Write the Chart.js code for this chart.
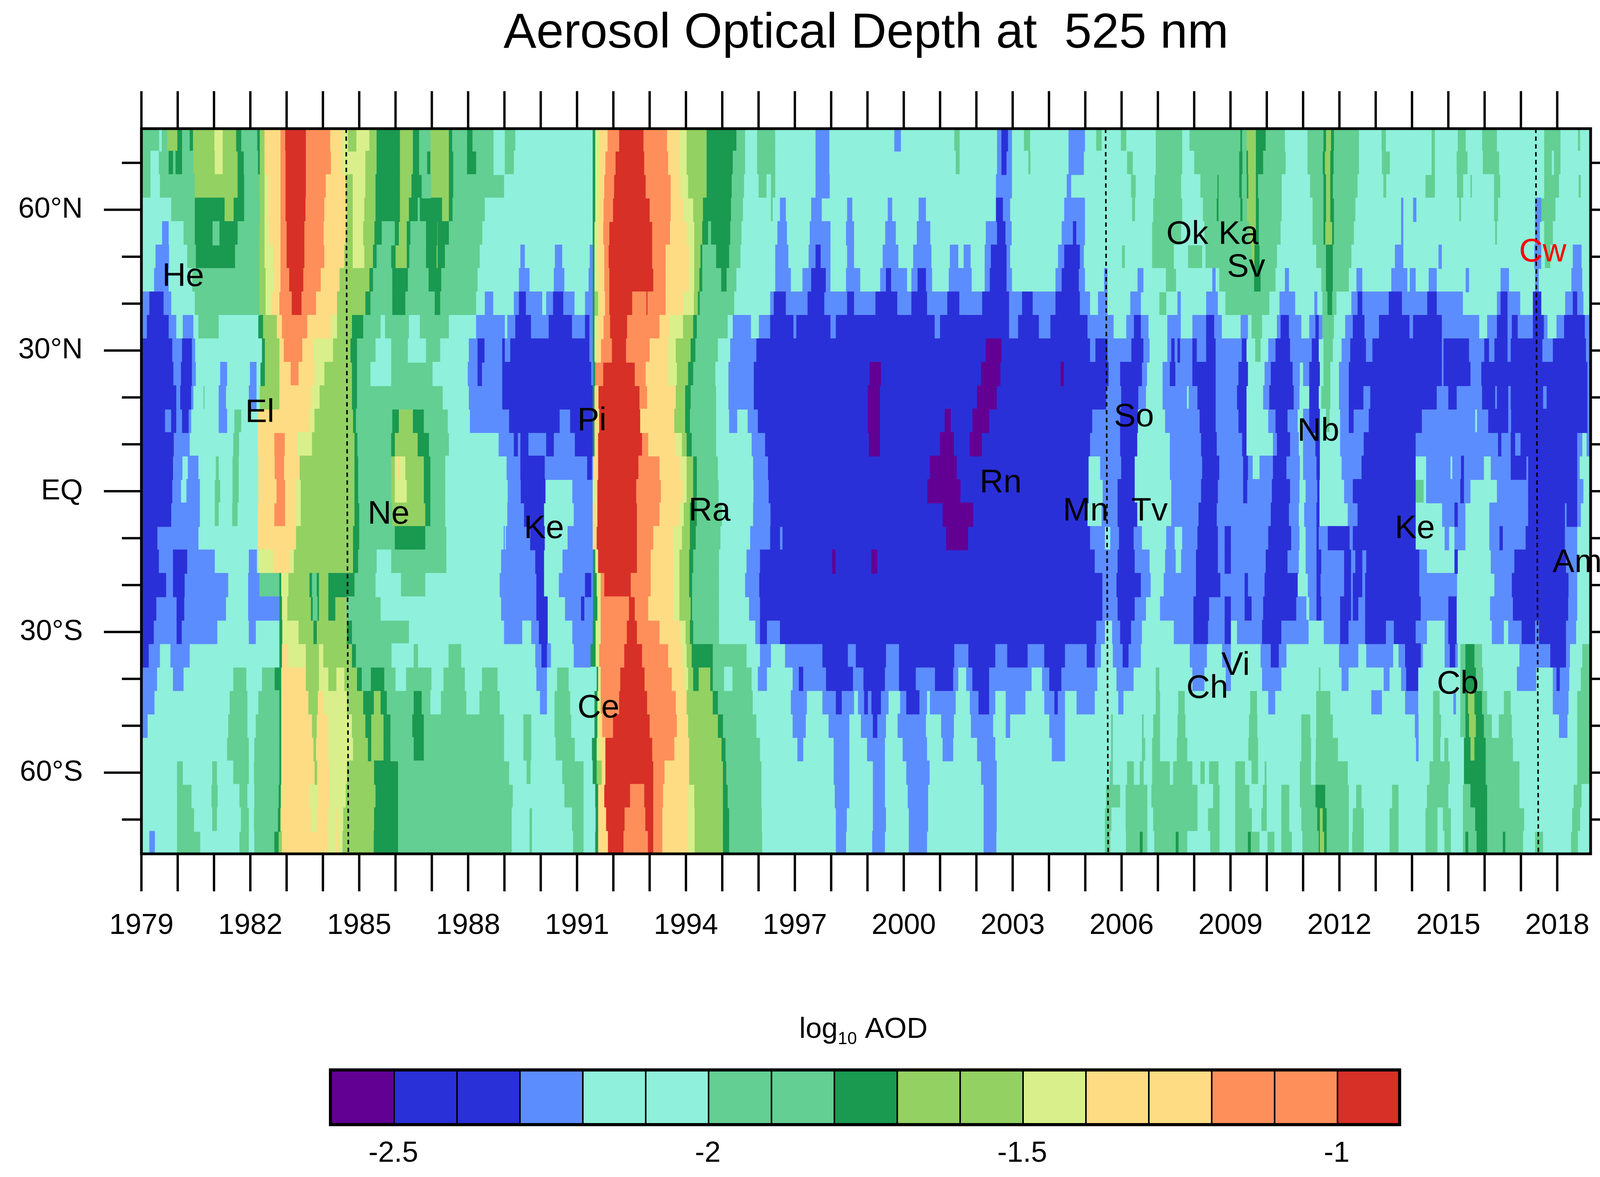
<!DOCTYPE html>
<html>
<head>
<meta charset="utf-8">
<title>Aerosol Optical Depth at 525 nm</title>
<script src="https://cdn.jsdelivr.net/npm/chart.js@4"></script>
<style>
html, body { margin: 0; padding: 0; background: #fff; }
#plotCanvas { position: absolute; left: 0; top: 0; }
#barCanvas { position: absolute; left: 0; top: 2560px; }
</style>
</head>
<body>
<canvas id="plotCanvas" width="4205" height="2560"></canvas>
<canvas id="barCanvas" width="4205" height="452"></canvas>
<script>
// colour classes of the contour plot
const P = 0, B = 1, L = 2, A = 3, G = 4, D = 5, M = 6, Y = 7, S = 8, O = 9, R = 10;
const classColors = ["#620094", "#2a30d8", "#5c8dff", "#8ff0db", "#63cf92", "#1a9950", "#93d163", "#d9ef8b", "#fddc84", "#fe8f5a", "#d73027"];

// colour bar
const barLevels = [-2.6, -2.5, -2.4, -2.3, -2.2, -2.1, -2, -1.9, -1.8, -1.7, -1.6, -1.5, -1.4, -1.3, -1.2, -1.1, -1, -0.9];
const barClasses = [P, B, B, L, A, A, G, G, D, M, M, Y, S, S, O, O, R];
const barTicks = [-2.5, -2, -1.5, -1];

// axes
const yearMarks = [];
for (let yr = 1979; yr <= 2018; yr++) yearMarks.push(yr);
const yearLabels = [1979, 1982, 1985, 1988, 1991, 1994, 1997, 2000, 2003, 2006, 2009, 2012, 2015, 2018];
const latLabels = [-60, -30, 0, 30, 60];
const latLabelText = { "-60": "60°S", "-30": "30°S", "0": "EQ", "30": "30°N", "60": "60°N" };
const latMinor = [-70, -50, -40, -20, -10, 10, 20, 40, 50, 70];

// volcano names: [text, year, latitude, colour]
const volcanoes = [
  ["He", 1980.15, 45.7, "#000"], ["El", 1982.26, 16.7, "#000"], ["Ne", 1985.81, -5, "#000"],
  ["Ke", 1990.09, -8.1, "#000"], ["Pi", 1991.41, 14.9, "#000"], ["Ce", 1991.59, -46.3, "#000"],
  ["Ra", 1994.65, -4.3, "#000"], ["Rn", 2002.67, 1.7, "#000"], ["Mn", 2005.01, -4.3, "#000"],
  ["Tv", 2006.77, -4.3, "#000"], ["So", 2006.34, 15.8, "#000"], ["Ok", 2007.81, 54.7, "#000"],
  ["Ka", 2009.22, 54.7, "#000"], ["Sv", 2009.43, 47.7, "#000"], ["Nb", 2011.42, 12.7, "#000"],
  ["Ke", 2014.08, -8.1, "#000"], ["Ch", 2008.36, -42.1, "#000"], ["Vi", 2009.14, -37.2, "#000"],
  ["Cb", 2015.26, -41.2, "#000"], ["Cw", 2017.6, 50.9, "#f00"], ["Am", 2018.55, -15.3, "#000"]
];

// dotted lines: [year at top, year at bottom]
const dottedYears = [[1984.64, 1984.7], [2005.56, 2005.63], [2017.41, 2017.48]];
const latTop = 77.3, latBottom = -77.3;

// one row per latitude: class, year where that class ends, class, year ...
const latN75 = [G,1979.5,A,1979.55,G,1979.7,M,1980,D,1980.13,G,1980.32,D,1980.41,M,1981,Y,1981.25,M,1981.62,D,1981.76,G,1982.18,D,1982.25,M,1982.38,S,1982.82,O,1982.95,R,1983.54,O,1984.21,S,1984.53,Y,1984.7,M,1984.91,Y,1985.29,M,1985.49,D,1986.11,M,1986.49,D,1986.66,G,1986.95,M,1987.48,D,1987.57,G,1987.96,D,1988.13,G,1988.71,A,1989,
  G,1989.31,A,1991.42,D,1991.49,Y,1991.6,S,1991.83,O,1992.15,R,1992.84,O,1993.49,S,1993.83,Y,1994.03,M,1994.58,D,1995.4,G,1995.64,A,1995.95,G,1996.47,A,1997.58,L,1997.94,A,1999,
  A,1999.75,L,1999.91,A,2001.38,G,2001.55,A,2002.58,L,2002.7,B,2002.86,L,2002.97,A,2003.3,G,2003.49,A,2004.55,L,2004.98,A,2005.29,G,2005.46,A,2005.97,G,2006.14,A,2006.93,G,2007.68,A,2007.86,G,2009,
  G,2009.26,D,2009.33,G,2009.43,M,2009.71,D,2009.98,G,2010.51,A,2011.11,G,2011.55,D,2011.62,M,2011.78,D,2011.86,G,2012.55,A,2013.15,G,2013.29,A,2014.53,G,2014.64,A,2015.25,G,2015.49,A,2015.92,G,2016.35,A,2017.63,G,2018.1,A,2018.56,G,2018.64,A,2019];
const latN70 = [G,1979.26,A,1979.47,G,1979.74,D,1979.88,G,1979.93,D,1980.13,G,1980.42,M,1981.01,Y,1981.25,M,1981.66,D,1981.83,G,1982.2,D,1982.25,M,1982.38,S,1982.82,O,1982.96,R,1983.54,O,1984.23,S,1984.53,Y,1985.18,M,1985.49,D,1986.11,M,1986.49,D,1986.66,G,1986.86,D,1986.95,M,1987.48,D,1987.6,G,1987.96,D,1988.23,G,1988.71,A,1989,
  G,1989.27,A,1991.42,D,1991.49,Y,1991.6,S,1991.77,O,1992.05,R,1992.86,O,1993.52,S,1993.83,Y,1994.03,M,1994.58,D,1995.3,G,1995.64,A,1995.95,G,1996.47,A,1997.58,L,1997.94,A,1999,
  A,2001.42,G,2001.55,A,2002.58,L,2002.7,B,2002.82,L,2002.97,A,2003.42,G,2003.5,A,2004.55,L,2004.95,A,2006.14,G,2006.32,A,2006.93,G,2007.68,A,2007.99,G,2009,
  G,2009.23,D,2009.34,G,2009.43,D,2009.47,M,2009.71,D,2009.91,G,2010.53,A,2011.11,G,2011.53,D,2011.59,M,2011.76,D,2011.85,G,2012.55,A,2013.16,G,2013.4,A,2014.53,G,2014.64,A,2015.22,G,2015.54,A,2015.94,G,2016.41,A,2017.63,G,2017.86,A,2017.9,G,2018.1,A,2019];
const latN65 = [G,1979.26,A,1979.5,G,1980.46,M,1981.66,D,1981.84,G,1982.24,M,1982.38,Y,1982.48,S,1982.82,O,1982.96,R,1983.54,O,1984.09,S,1984.64,M,1984.81,Y,1985.18,M,1985.46,D,1986.11,M,1986.45,D,1986.73,G,1986.97,M,1987.48,D,1987.6,G,1989,
  A,1991.42,D,1991.49,Y,1991.6,S,1991.74,O,1992.01,R,1992.9,O,1993.59,S,1993.86,Y,1994.07,M,1994.58,D,1995.27,G,1995.61,A,1995.99,G,1996.23,A,1996.33,G,1996.47,A,1997.58,L,1997.95,A,1999,
  A,2002.55,L,2002.97,A,2004.5,L,2004.6,A,2006.25,G,2006.4,A,2006.9,G,2007.65,A,2008.16,G,2008.63,D,2008.68,G,2009,
  G,2009.23,D,2009.32,G,2009.44,D,2009.48,M,2009.71,D,2009.77,G,2010.42,A,2011.18,G,2011.55,D,2011.62,M,2011.76,D,2011.83,G,2012.51,A,2013.2,G,2013.3,A,2014.36,G,2014.64,A,2015.23,G,2015.42,A,2015.6,G,2015.66,A,2016.25,G,2016.44,A,2017.63,G,2018.06,A,2018.58,G,2018.66,A,2019];
const latN60 = [A,1979.81,G,1980.46,D,1981.28,M,1981.55,D,1981.84,G,1982.25,M,1982.38,Y,1982.48,S,1982.82,O,1982.96,R,1983.53,O,1984.05,S,1984.67,M,1984.81,Y,1985.15,M,1985.46,D,1986.11,M,1986.38,D,1986.62,G,1986.66,D,1987.27,M,1987.48,D,1987.58,G,1988.47,A,1989,
  A,1991.42,D,1991.49,Y,1991.59,S,1991.72,O,1991.98,R,1993.01,O,1993.59,S,1993.93,Y,1994.21,M,1994.48,D,1995.25,G,1995.58,A,1996.33,G,1996.4,A,1996.6,L,1996.74,A,1997.46,L,1997.73,A,1998.45,L,1998.57,A,1999,
  A,1999.57,L,1999.67,A,2000.42,L,2000.6,A,2002.55,B,2002.72,L,2002.92,A,2004.43,L,2004.98,A,2006.28,G,2006.38,A,2006.86,G,2007.68,A,2008.23,G,2008.61,D,2008.68,G,2009,
  G,2009.26,D,2009.34,G,2009.44,M,2009.71,D,2009.79,G,2010.42,A,2011.25,G,2011.55,D,2011.62,M,2011.76,D,2011.86,G,2012.45,A,2013.71,L,2013.75,A,2014.04,L,2014.11,A,2015.29,G,2015.36,A,2016.25,G,2016.38,A,2017.4,L,2017.55,G,2017.96,A,2019];
const latN55 = [A,1979.58,L,1979.74,A,1980.15,G,1980.46,D,1980.97,G,1981.14,D,1981.66,G,1982.24,M,1982.38,Y,1982.51,S,1982.82,O,1982.99,R,1983.5,O,1984.03,S,1984.64,M,1984.81,Y,1985.12,M,1985.43,D,1985.63,G,1985.97,D,1986.08,M,1986.32,D,1986.42,G,1986.83,D,1987.14,M,1987.17,D,1987.48,G,1988.4,A,1989,
  A,1991.42,D,1991.47,Y,1991.57,S,1991.71,O,1991.88,R,1993.08,O,1993.57,S,1994.03,Y,1994.24,M,1994.46,D,1994.62,G,1994.68,D,1995.23,G,1995.54,A,1996.53,L,1996.77,A,1997.42,L,1997.97,A,1998.42,L,1998.62,A,1999,
  A,1999.5,L,1999.77,A,2000.37,L,2000.72,A,2002.27,L,2002.58,B,2002.79,L,2002.96,A,2004.36,L,2004.67,B,2004.74,L,2004.98,A,2006.83,G,2007.65,A,2008.27,G,2009,
  G,2009.5,M,2009.71,D,2009.79,G,2010.39,A,2011.25,G,2011.55,D,2011.6,M,2011.81,D,2011.86,G,2012.41,A,2013.71,L,2013.75,A,2016.28,G,2016.35,A,2017.4,L,2017.51,A,2017.63,G,2017.89,A,2019];
const latN50 = [A,1979.4,L,1979.75,A,1980.25,G,1980.49,D,1981.59,G,1982.24,M,1982.38,Y,1982.62,S,1982.82,O,1982.99,R,1983.5,O,1984.05,S,1984.6,M,1984.81,Y,1985.15,M,1985.39,D,1985.49,G,1985.87,D,1985.99,M,1986.32,D,1986.39,G,1986.83,D,1987.12,M,1987.17,D,1987.37,G,1988.33,A,1989,
  A,1989.45,L,1989.55,A,1990.4,L,1990.58,A,1991.36,L,1991.42,D,1991.47,Y,1991.57,S,1991.74,O,1991.86,R,1993.08,O,1993.45,S,1994.1,Y,1994.24,M,1994.41,D,1994.46,G,1994.82,D,1995.2,G,1995.51,A,1996.47,L,1996.81,A,1997.39,L,1997.58,B,1997.7,L,1997.97,A,1998.45,L,1998.62,A,1999,
  A,1999.43,L,1999.84,A,2000.27,L,2000.75,A,2001.28,L,2001.49,A,2001.66,L,2001.83,A,2002.24,L,2002.41,B,2002.82,L,2002.92,A,2004.26,L,2004.43,B,2004.84,L,2004.95,A,2006,G,2006.1,A,2006.83,G,2007.45,A,2007.82,G,2008.23,A,2008.3,G,2009,
  G,2009.57,M,2009.67,D,2009.81,G,2010.29,A,2011.35,G,2011.62,D,2011.83,G,2012.34,A,2013.54,L,2013.75,A,2014.74,L,2014.81,A,2017.38,L,2017.55,A,2017.65,G,2017.82,A,2018.44,L,2018.66,A,2019];
const latN45 = [A,1979.36,L,1979.74,A,1980.39,G,1982.24,M,1982.41,Y,1982.65,S,1982.82,O,1983.06,R,1983.47,O,1983.95,S,1984.47,M,1985.29,D,1985.39,G,1985.9,D,1986.35,G,1986.9,D,1987.27,G,1988.27,A,1989,
  A,1989.41,L,1989.68,A,1990.37,L,1990.64,A,1991.33,L,1991.42,D,1991.47,Y,1991.58,S,1991.74,O,1991.88,R,1993.11,O,1993.45,S,1994.09,Y,1994.24,M,1994.38,D,1994.46,G,1994.96,D,1995.13,G,1995.4,A,1996.47,L,1996.88,A,1997.22,L,1997.46,B,1997.84,L,1997.97,A,1998.42,L,1998.79,A,1999,
  A,1999.36,L,1999.52,B,1999.64,L,2000.08,A,2000.22,L,2000.39,B,2000.6,L,2000.77,A,2001.25,L,2001.86,A,2002.24,L,2002.38,B,2002.82,L,2002.97,A,2004.19,L,2004.36,B,2004.81,L,2004.98,A,2005.53,L,2005.6,A,2006.45,L,2006.59,A,2007.21,G,2007.51,A,2008.51,L,2008.58,A,2008.68,G,2009,
  G,2009.64,D,2009.84,G,2010.25,A,2010.51,L,2010.6,A,2011.49,G,2011.62,D,2011.83,G,2012.27,A,2012.48,L,2012.62,A,2013.44,L,2013.86,A,2013.95,L,2014.09,A,2014.47,L,2014.67,A,2015.49,L,2015.56,A,2016.45,L,2016.66,A,2017.4,L,2017.48,A,2018.4,L,2018.68,A,2019];
const latN40 = [L,1979.23,B,1979.6,L,1979.81,A,1980.46,G,1982.24,M,1982.41,Y,1982.58,S,1982.79,O,1983.13,R,1983.42,O,1983.82,S,1984.4,M,1985.18,D,1985.32,G,1985.9,D,1986.28,G,1987.07,D,1987.24,G,1988.23,A,1988.47,L,1988.68,A,1989,
  A,1989.27,L,1989.41,B,1989.58,L,1990.03,A,1990.16,L,1990.35,B,1990.61,L,1990.92,A,1991.23,L,1991.42,D,1991.47,M,1991.57,Y,1991.6,S,1991.76,O,1991.88,R,1992.53,O,1992.9,R,1992.95,O,1993.45,S,1993.93,Y,1994.23,M,1994.34,D,1994.39,G,1995.34,A,1996.33,L,1996.43,B,1996.74,L,1997.36,B,1997.8,L,1998.45,B,1998.62,L,1999,
  L,1999.23,B,1999.81,L,2000.22,B,2000.63,L,2001.21,B,2001.52,L,2002.17,B,2002.89,L,2003.27,B,2003.54,L,2004.19,B,2004.84,L,2005.12,A,2005.36,L,2005.6,A,2006.25,L,2006.52,A,2007.03,G,2007.24,A,2007.55,L,2007.62,A,2008.34,L,2008.64,A,2008.85,G,2009,
  G,2010.08,A,2010.36,L,2010.77,A,2011.32,L,2011.38,A,2011.52,G,2011.66,D,2011.81,G,2011.93,A,2012.34,L,2012.51,B,2012.62,L,2013.37,B,2013.71,L,2014.43,B,2014.67,L,2015.39,A,2016.35,L,2016.45,B,2016.62,L,2016.97,A,2017.34,B,2017.55,A,2018.23,L,2018.44,B,2018.54,L,2018.71,A,2019];
const latN35 = [L,1979.16,B,1979.74,L,1979.95,A,1980.15,L,1980.42,A,1980.56,G,1981.14,A,1982.21,D,1982.34,M,1982.72,S,1982.86,O,1983.58,S,1984.23,Y,1984.4,M,1984.81,D,1985.12,G,1985.6,A,1985.7,G,1986.38,A,1986.66,G,1987.48,A,1988.23,L,1989,
  A,1989.09,L,1989.31,B,1989.72,L,1990.23,B,1990.85,L,1991.23,B,1991.33,L,1991.42,D,1991.47,Y,1991.57,S,1991.72,O,1991.9,R,1992.39,O,1993.28,S,1993.55,Y,1993.93,M,1994.21,D,1994.31,G,1995.16,A,1995.3,L,1995.78,A,1996.02,L,1996.33,B,1996.95,L,1997.05,B,1997.97,L,1998.14,B,1999,
  B,2000.84,L,2001.01,B,2002.89,L,2003.16,B,2003.71,L,2004.05,B,2005.05,L,2005.77,A,2006.14,L,2006.35,B,2006.52,L,2006.73,A,2007.27,L,2007.62,A,2007.96,L,2008.34,B,2008.54,L,2008.75,A,2009,
  A,2009.29,L,2009.47,A,2009.57,G,2009.88,A,2010.29,L,2010.39,B,2010.6,L,2010.94,A,2011.18,L,2011.35,B,2011.42,L,2011.52,G,2011.86,A,2012.17,L,2012.38,B,2012.68,L,2013.1,B,2013.92,L,2014.04,B,2014.81,L,2015.84,A,2016.08,L,2016.35,B,2016.62,L,2016.76,B,2016.9,L,2017.34,B,2017.62,L,2017.72,A,2017.99,L,2018.2,B,2018.75,L,2019];
const latN30 = [B,1979.84,L,1980.13,B,1980.38,L,1980.47,A,1982.31,D,1982.39,M,1982.79,S,1982.91,O,1983.44,S,1983.75,Y,1984.29,M,1984.77,D,1984.95,G,1985.46,A,1985.87,G,1986.35,A,1986.83,G,1987.24,A,1988.03,L,1988.27,B,1988.44,L,1988.95,B,1989,
  L,1989.17,B,1991.33,L,1991.42,D,1991.47,Y,1991.53,S,1991.65,O,1991.95,R,1992.36,O,1993.01,S,1993.52,Y,1993.73,M,1994.14,D,1994.27,G,1994.89,A,1995.23,L,1995.95,B,1999,
  B,2002.27,P,2002.68,B,2005.12,L,2005.29,B,2005.6,L,2006.28,B,2006.59,L,2006.76,A,2007.27,L,2007.38,B,2007.45,L,2007.55,B,2007.6,L,2007.96,B,2008.06,L,2008.34,B,2008.58,L,2009,
  L,2009.32,B,2009.43,A,2009.67,G,2009.84,A,2010.05,L,2010.25,B,2010.63,L,2011.25,B,2011.42,A,2011.55,G,2011.83,A,2012.07,L,2012.31,B,2012.72,L,2012.92,B,2014.81,L,2014.88,B,2015.56,L,2016,B,2016.11,L,2016.28,B,2016.62,L,2016.73,B,2017.58,L,2017.89,B,2018.78,L,2019];
const latN25 = [B,1979.87,L,1980.1,B,1980.38,L,1980.49,A,1981.18,L,1981.35,A,1982,L,1982.16,A,1982.27,D,1982.39,M,1982.79,S,1983.1,O,1983.34,S,1983.78,Y,1984.05,M,1984.81,D,1984.95,G,1985.32,A,1985.87,G,1987.03,A,1988,L,1988.27,B,1988.37,L,1988.95,B,1989,
  B,1991.38,L,1991.43,D,1991.49,O,1991.71,R,1992.6,O,1992.9,S,1993.52,Y,1993.76,M,1994.07,D,1994.21,G,1994.82,A,1995.18,L,1995.88,B,1999,
  B,1999.07,P,1999.36,B,2002.14,P,2002.65,B,2004.33,P,2004.4,B,2005.63,L,2005.97,B,2006.55,L,2006.69,A,2007.14,L,2007.34,B,2007.47,L,2007.96,B,2008.58,L,2009,
  L,2009.23,B,2009.47,A,2009.95,L,2010.12,B,2010.7,L,2010.9,A,2011.01,L,2011.18,B,2011.45,A,2011.55,G,2011.76,A,2012,L,2012.27,B,2014.81,L,2014.88,B,2015.6,L,2015.92,B,2018.82,L,2019];
const latN20 = [B,1979.95,L,1980.08,B,1980.36,L,1980.42,A,1980.7,G,1980.75,A,1981.14,L,1981.32,A,1981.97,L,1982.16,A,1982.25,M,1982.79,S,1983.68,Y,1983.92,M,1984.81,D,1984.95,G,1987.31,A,1988.03,L,1988.95,B,1989,
  B,1991.42,D,1991.47,S,1991.58,R,1992.73,O,1992.94,S,1993.73,M,1993.99,D,1994.14,G,1994.84,A,1995.18,L,1995.88,B,1999,
  B,1999.02,P,1999.33,B,2002.03,P,2002.55,B,2005.56,L,2006,B,2006.45,L,2006.66,A,2007.14,L,2007.79,A,2007.86,L,2008.1,B,2008.58,L,2009,
  L,2009.19,B,2009.43,A,2009.91,L,2010.08,B,2010.73,L,2010.89,A,2011.18,B,2011.42,A,2011.49,G,2011.76,A,2012,L,2012.27,B,2012.65,L,2012.86,B,2014.67,L,2015.01,B,2015.22,L,2015.94,B,2016.28,L,2016.35,B,2016.64,L,2016.73,B,2017.6,L,2017.72,B,2018.82,L,2019];
const latN15 = [B,1979.64,L,1979.83,B,1979.95,L,1980.13,B,1980.29,L,1980.36,A,1981.14,L,1981.35,A,1981.55,G,1981.76,A,1982.19,S,1983.64,Y,1983.78,M,1984.84,D,1984.92,G,1985.9,D,1986.08,M,1986.49,D,1986.79,G,1987.45,A,1988.06,L,1989,
  L,1989.14,B,1990.51,L,1990.82,B,1991.42,D,1991.47,S,1991.6,R,1992.75,S,1993.69,M,1993.99,D,1994.12,G,1994.84,A,1995.2,L,1995.4,A,1995.71,L,1995.99,B,1999,
  B,1999.02,P,1999.33,B,2001.14,P,2001.28,B,2001.9,P,2002.34,B,2005.18,L,2005.97,B,2006.44,A,2007.21,L,2008.16,B,2008.58,L,2009,
  L,2009.23,B,2009.43,A,2010.05,L,2010.25,B,2010.56,L,2010.84,A,2011.01,L,2011.18,B,2011.45,A,2011.62,G,2011.74,A,2012.03,L,2012.27,B,2012.38,L,2012.82,B,2014.26,L,2015.73,A,2015.8,L,2016.11,B,2016.64,L,2016.74,B,2018.82,L,2019];
const latN10 = [B,1979.88,L,1980.32,A,1981.52,G,1981.7,A,1982.19,S,1982.65,O,1982.96,S,1983.3,Y,1983.71,M,1984.88,D,1984.96,G,1985.87,D,1985.97,M,1986.62,D,1986.93,G,1987.48,A,1988.85,L,1989,
  L,1989.27,B,1989.36,L,1989.45,B,1989.65,L,1990.16,B,1990.35,L,1990.95,B,1991.42,D,1991.47,S,1991.57,R,1992.8,O,1992.97,S,1993.73,Y,1993.9,M,1994.03,D,1994.17,G,1994.84,A,1995.82,L,1996.19,B,1999,
  B,1999.05,P,1999.33,B,2001.01,P,2001.37,B,2001.83,P,2002.14,B,2005.12,L,2005.97,B,2006.42,A,2007.34,L,2008.2,B,2008.61,L,2009,
  L,2009.33,B,2009.43,A,2010.18,L,2010.29,B,2010.63,L,2010.87,A,2011.01,L,2011.35,B,2011.45,A,2012.03,L,2012.68,B,2014.09,L,2016.38,B,2016.45,L,2016.73,B,2016.83,L,2017,B,2018.54,L,2018.68,A,2018.82,L,2019];
const latN5 = [B,1979.86,L,1980.12,A,1980.29,L,1980.56,A,1981.04,G,1981.14,A,1981.5,G,1981.69,A,1982.21,S,1982.66,O,1982.94,S,1983.37,M,1984.88,D,1984.98,G,1985.87,M,1985.97,Y,1986.04,S,1986.12,Y,1986.28,M,1986.79,D,1986.97,G,1987.38,A,1989,
  A,1989.07,L,1989.45,B,1990.1,L,1991.29,B,1991.4,L,1991.43,S,1991.57,R,1992.7,O,1993.28,S,1993.86,Y,1994.03,M,1994.21,D,1994.31,G,1994.89,A,1995.86,L,1996.27,B,1999,
  B,2000.73,P,2001.45,B,2005.08,A,2005.42,L,2006,B,2006.35,A,2007.34,L,2008.23,B,2008.68,L,2009,
  L,2009.36,B,2009.47,L,2009.6,A,2009.81,L,2010.18,B,2010.53,L,2010.9,A,2011.01,L,2011.38,B,2011.45,A,2012.07,L,2012.62,B,2014.09,A,2014.4,L,2015.05,A,2015.12,L,2015.36,B,2015.42,L,2015.97,A,2016.18,L,2016.73,B,2017.14,L,2017.21,B,2018.54,L,2018.61,A,2019];
const lat0 = [B,1979.84,L,1980.08,A,1980.25,L,1980.6,A,1981.01,G,1981.18,A,1981.5,G,1981.69,A,1982.21,S,1982.71,O,1982.97,S,1983.27,Y,1983.4,M,1984.88,D,1984.98,G,1985.87,M,1985.97,Y,1986.32,M,1986.79,D,1986.97,G,1987.38,A,1989,
  A,1989.1,L,1989.46,B,1990.12,A,1990.88,L,1991.42,Y,1991.5,S,1991.55,R,1992.64,O,1993.32,S,1993.92,Y,1994.03,M,1994.21,D,1994.31,G,1994.91,A,1995.87,L,1996.29,B,1999,
  B,2000.66,P,2001.55,B,2005.08,A,2005.49,L,2005.9,B,2006.35,A,2007.38,L,2008.2,B,2008.64,L,2009,
  L,2009.36,B,2009.45,L,2010.15,B,2010.63,L,2010.89,A,2011.08,L,2011.4,B,2011.44,A,2012.14,L,2012.38,B,2014.09,G,2014.33,A,2014.4,L,2015.34,B,2015.42,L,2015.6,A,2016.35,L,2017.21,B,2018.54,L,2018.71,A,2019];
const latS5 = [B,1979.81,L,1980.6,A,1981.01,G,1981.14,A,1981.49,G,1981.66,A,1982.19,S,1982.65,O,1982.97,S,1983.27,Y,1983.4,M,1984.88,D,1985.01,G,1985.9,M,1986.83,D,1986.97,G,1987.38,A,1989,
  A,1989.09,L,1989.55,B,1990.08,A,1990.92,L,1991.42,S,1991.55,R,1992.66,O,1993.28,S,1993.83,Y,1993.95,M,1994.12,D,1994.31,G,1995,A,1995.86,L,1996.34,B,1999,
  B,2001.08,P,2001.9,B,2005.05,A,2005.46,L,2005.9,B,2006.42,A,2007.38,L,2008.13,B,2008.61,L,2009,
  L,2010.12,B,2010.6,L,2010.87,A,2011.04,L,2011.38,B,2011.44,A,2012.24,L,2012.51,B,2014.09,A,2014.84,L,2015.18,B,2015.25,L,2015.46,A,2016.14,L,2017.21,B,2018.2,L,2018.27,B,2018.54,L,2018.64,A,2019];
const latS10 = [B,1979.43,L,1980.56,A,1982.19,S,1983.27,M,1984.84,D,1985.01,G,1985.97,D,1986.83,G,1987.41,A,1988.99,L,1989,
  A,1989.05,L,1989.72,B,1990.1,A,1990.75,L,1991.42,S,1991.53,R,1992.66,O,1993.11,S,1993.66,Y,1993.9,M,1994.12,D,1994.28,G,1994.96,A,1995.78,L,1996.33,B,1996.58,L,1996.67,B,1999,
  B,2001.18,P,2001.76,B,2005.12,L,2005.53,A,2005.7,L,2005.94,B,2006.32,L,2006.55,A,2007.24,L,2007.45,A,2007.68,L,2008.1,B,2008.64,L,2008.85,B,2009,
  L,2010.05,B,2010.66,L,2010.89,A,2011.08,L,2011.38,B,2011.42,L,2011.69,B,2012.27,L,2012.38,B,2014.09,A,2014.91,L,2015.01,A,2015.18,L,2015.46,A,2016.14,L,2016.42,B,2016.49,L,2017.14,B,2018.2,L,2018.54,A,2019];
const latS15 = [B,1979.47,L,1979.88,B,1980.25,L,1981.01,A,1981.97,L,1982.17,A,1982.21,Y,1982.62,S,1983.1,Y,1983.21,M,1984.84,D,1984.98,G,1985.49,A,1985.87,G,1987.41,A,1988.92,L,1989,
  L,1989.86,B,1990.08,A,1990.61,L,1991.43,D,1991.49,Y,1991.57,R,1992.66,O,1993.04,S,1993.66,Y,1993.83,M,1994.1,D,1994.21,G,1994.92,A,1995.68,L,1996.05,B,1998.04,P,1998.11,B,1999,
  B,1999.12,P,1999.26,B,2005.25,L,2005.9,B,2006.35,L,2006.76,A,2007.21,L,2007.48,A,2007.65,L,2008.06,B,2008.64,L,2008.85,B,2009,
  L,2009.98,B,2010.56,L,2010.87,A,2011.08,L,2011.38,B,2011.49,L,2012.14,B,2012.31,L,2012.45,B,2012.62,L,2012.75,B,2014.19,L,2014.4,A,2015.18,B,2015.25,A,2016.18,L,2016.83,B,2018.23,L,2018.54,A,2019];
const latS20 = [B,1979.67,L,1979.88,B,1980.18,L,1981.38,A,1981.95,L,1982.24,G,1982.79,D,1982.84,Y,1983.06,M,1983.64,D,1983.71,G,1983.82,D,1983.88,M,1984.16,D,1984.88,G,1985.46,A,1986.14,G,1986.83,A,1988.88,L,1989,
  L,1989.89,B,1990.08,A,1990.51,L,1991.23,B,1991.38,L,1991.43,D,1991.53,Y,1991.64,O,1991.74,R,1992.49,O,1993.04,S,1993.66,Y,1993.83,M,1994.1,D,1994.18,G,1994.92,A,1995.64,L,1996.03,B,1999,
  B,2005.46,L,2005.87,B,2006.52,L,2006.79,A,2007.17,L,2008.06,B,2008.71,L,2009,
  L,2009.4,B,2009.47,L,2009.95,B,2010.84,A,2011.14,L,2011.38,B,2011.47,L,2012.14,B,2012.31,L,2012.38,B,2012.62,L,2012.72,B,2014.19,L,2015.23,A,2016.28,L,2016.76,B,2018.3,L,2018.54,A,2019];
const latS25 = [B,1979.4,L,1979.98,B,1980.17,L,1981.32,A,1981.95,L,1982.79,D,1982.86,Y,1983.03,M,1983.68,D,1983.73,G,1983.84,D,1983.88,M,1984.16,D,1984.33,M,1984.67,G,1985.6,A,1988.92,L,1989,
  L,1989.89,B,1990.18,A,1990.68,L,1991.12,B,1991.19,L,1991.43,D,1991.55,Y,1991.64,O,1992.42,R,1992.6,O,1992.97,S,1993.66,Y,1993.83,M,1994.14,D,1994.18,G,1994.92,A,1995.75,L,1996.05,B,1999,
  B,2005.46,L,2005.9,B,2006.35,L,2006.66,A,2007.07,L,2007.99,B,2008.4,L,2008.85,B,2009,
  L,2009.4,B,2009.57,L,2009.91,B,2010.8,L,2011.08,A,2011.18,L,2011.38,B,2011.49,L,2012.03,B,2012.31,L,2012.38,B,2012.51,L,2012.72,B,2014.23,L,2015.01,B,2015.22,A,2016.16,L,2016.79,B,2018.29,L,2018.54,A,2019];
const latS30 = [B,1979.33,L,1979.98,B,1980.1,L,1981.08,A,1981.97,L,1982.14,A,1982.79,D,1982.87,Y,1983.34,M,1983.75,D,1983.82,M,1984.67,D,1984.81,G,1986.38,A,1989,
  L,1989.48,A,1989.75,L,1989.96,B,1990.18,A,1990.88,L,1991.42,D,1991.5,Y,1991.64,O,1992.36,R,1992.66,O,1993.28,S,1993.86,Y,1994,M,1994.12,D,1994.21,G,1994.92,A,1995.92,L,1996.05,B,1996.22,L,1996.6,B,1999,
  B,2005.29,L,2005.53,A,2005.75,L,2005.97,B,2006.25,L,2006.55,A,2007.45,L,2007.99,B,2008.37,L,2008.85,B,2009,
  A,2009.19,L,2009.88,B,2010.39,L,2011.14,A,2011.58,L,2012.03,B,2012.24,L,2012.72,B,2013.27,L,2013.51,B,2014.09,L,2014.4,A,2014.91,L,2015.01,B,2015.22,A,2016.21,L,2016.52,A,2016.66,L,2017.03,B,2017.38,L,2017.51,B,2018.23,L,2018.51,A,2019];
const latS35 = [B,1979.19,L,1979.5,A,1979.81,L,1980.32,A,1982.79,D,1982.86,S,1983.06,Y,1983.54,M,1983.88,Y,1984.02,M,1984.81,D,1984.92,G,1985.9,A,1986.49,G,1986.63,A,1987.45,G,1987.82,A,1989,
  A,1989.86,L,1990.03,B,1990.16,L,1990.27,A,1990.92,L,1991.36,D,1991.5,Y,1991.6,O,1992.29,R,1992.8,O,1993.52,S,1993.9,Y,1994.03,M,1994.17,D,1994.75,G,1995.68,A,1996.05,L,1996.33,A,1996.74,L,1997.77,B,1998.45,L,1998.69,B,1999,
  B,1999.5,L,1999.88,B,2001.38,L,2001.79,B,2002.51,L,2002.86,B,2003.4,L,2003.88,B,2004.43,L,2005.05,B,2005.25,L,2005.42,A,2005.77,L,2006.04,B,2006.18,L,2006.52,A,2007.89,L,2008.34,A,2008.78,L,2009,
  A,2009.84,L,2010.12,B,2010.32,L,2010.53,A,2012,L,2012.51,A,2012.75,L,2013.47,A,2013.64,L,2013.82,B,2014.23,L,2014.29,A,2014.91,L,2015.05,B,2015.18,L,2015.25,A,2015.32,G,2015.46,D,2015.73,G,2015.94,A,2016.97,L,2017.82,B,2018.23,L,2018.34,A,2018.68,G,2019];
const latS40 = [L,1979.42,A,1979.88,L,1980.15,A,1981.52,G,1981.9,A,1982.31,G,1982.66,D,1982.84,S,1983.54,M,1983.88,Y,1984.16,M,1984.36,Y,1984.6,M,1984.95,D,1985.08,G,1985.31,D,1985.7,G,1986.01,A,1986.28,G,1987,A,1987.31,G,1987.92,A,1988.37,G,1988.82,A,1989,
  A,1989.89,L,1990.16,A,1990.44,G,1990.78,A,1991.53,D,1991.57,Y,1991.64,O,1992.18,R,1992.87,O,1993.62,S,1993.97,Y,1994.07,M,1994.21,D,1994.34,M,1994.68,D,1994.75,G,1995.06,A,1995.27,G,1995.82,A,1995.99,L,1996.22,A,1996.95,L,1997.12,B,1997.22,L,1997.87,B,1998.59,L,1998.9,B,1999,
  B,1999.47,L,1999.88,B,2000.32,L,2000.87,B,2001.35,L,2001.49,A,2001.73,L,2001.9,B,2002.34,L,2003.51,A,2003.82,L,2004.02,B,2004.33,L,2005.32,A,2005.87,L,2006.32,A,2006.93,G,2007.05,A,2007.96,L,2008.27,A,2008.88,L,2009,
  A,2009.88,L,2010.39,A,2011.42,G,2011.49,A,2012.07,L,2012.24,A,2013.23,L,2013.37,A,2013.71,L,2013.85,B,2014.16,A,2015.32,G,2015.46,D,2015.77,G,2015.97,A,2016.9,L,2017.41,A,2017.89,L,2017.99,B,2018.06,L,2018.32,A,2018.64,G,2019];
const latS45 = [L,1979.35,A,1981.42,G,1981.93,A,1982.21,G,1982.79,D,1982.84,S,1983.61,M,1983.85,S,1984.02,Y,1984.67,M,1985.12,D,1985.39,M,1985.6,D,1985.77,G,1986.49,D,1986.73,G,1986.97,A,1987.24,G,1987.96,A,1988.3,G,1988.88,A,1989,
  A,1989.99,L,1990.16,A,1990.37,G,1990.82,A,1991.47,D,1991.55,Y,1991.64,O,1992.15,R,1992.94,O,1993.73,S,1994.03,M,1994.75,D,1994.89,G,1995.85,A,1996.9,L,1997.32,A,1997.77,L,1998.14,B,1998.28,L,1998.62,A,1998.75,L,1998.92,B,1999,
  L,1999.12,B,1999.36,L,1999.57,A,1999.91,L,2000.08,B,2000.42,L,2000.63,A,2000.73,L,2001.42,A,2001.83,L,2002.07,B,2002.34,L,2002.51,A,2002.82,L,2003.34,A,2003.88,L,2004.16,B,2004.23,L,2004.43,A,2004.77,L,2005.25,A,2005.92,L,2006.04,A,2006.93,G,2007.07,A,2007.55,G,2007.75,A,2009,
  A,2009.53,G,2009.74,A,2010.05,L,2010.22,A,2011.35,G,2011.76,A,2012.89,L,2013.16,A,2013.82,L,2014.16,A,2014.57,G,2014.77,A,2015.15,L,2015.2,A,2015.32,G,2015.46,D,2015.53,M,2015.73,D,2015.94,G,2016.08,A,2016.52,G,2016.73,A,2017.89,L,2018.3,A,2018.54,G,2019];
const latS50 = [L,1979.16,A,1981.38,G,1981.93,A,1982.14,G,1982.79,D,1982.84,S,1983.71,M,1983.82,S,1984.16,Y,1984.81,M,1985.18,D,1985.32,M,1985.68,D,1985.87,G,1986.45,D,1986.79,G,1989,
  A,1989.51,G,1989.75,A,1990.37,G,1990.85,A,1991.47,D,1991.55,Y,1991.62,S,1991.68,O,1991.98,R,1993.01,O,1993.76,S,1994.07,M,1994.89,D,1995.03,G,1995.95,A,1996.95,L,1997.29,A,1997.94,L,1998.49,A,1998.83,L,1999,
  L,1999.16,B,1999.26,L,1999.5,A,1999.84,L,2000.6,A,2001.04,L,2001.37,A,2001.86,L,2002.45,A,2002.82,L,2002.92,A,2004.02,L,2004.43,A,2005.7,G,2005.77,A,2006.55,G,2006.62,A,2006.86,G,2007.07,A,2007.53,G,2007.77,A,2009,
  A,2009.5,G,2009.75,A,2010.94,G,2011.21,A,2011.35,G,2011.83,A,2014.09,L,2014.17,A,2014.57,G,2014.81,A,2015.32,G,2015.46,D,2015.56,M,2015.77,D,2015.99,G,2016.21,A,2016.38,G,2016.76,A,2018.06,L,2018.27,A,2018.54,G,2019];
const latS55 = [A,1981.35,G,1981.97,A,1982.1,G,1982.79,D,1982.84,S,1983.75,M,1983.8,S,1984.16,Y,1984.84,M,1985.25,D,1985.32,M,1985.68,D,1985.87,G,1986.49,D,1986.79,G,1989,
  A,1989.51,G,1989.75,A,1990.4,G,1990.95,A,1991.4,D,1991.53,Y,1991.64,S,1991.77,R,1993.08,O,1993.69,S,1994.1,M,1994.99,D,1995.1,G,1996.05,A,1997.08,L,1997.22,A,1998.08,L,1998.49,A,1999,
  L,1999.47,A,1999.98,L,2000.63,A,2001.08,L,2001.35,A,2002.03,L,2002.51,A,2004.09,L,2004.43,A,2005.7,G,2005.77,A,2006.55,G,2006.66,A,2006.83,G,2007.07,A,2007.51,G,2007.82,A,2009,
  A,2009.48,G,2009.77,A,2010.94,G,2011.23,A,2011.34,G,2011.97,A,2014.12,L,2014.17,A,2014.57,G,2014.79,A,2014.88,G,2015.01,A,2015.42,D,2015.6,M,2015.73,D,2016.04,G,2016.79,A,2018.54,G,2019];
const latS60 = [A,1979.97,G,1980.15,A,1980.94,G,1981.09,A,1981.52,G,1981.97,A,1982.09,G,1982.79,D,1982.84,S,1983.78,M,1983.83,S,1984.19,Y,1984.67,M,1985.42,D,1986.08,G,1989,
  G,1989.14,A,1989.6,G,1989.73,A,1990.58,G,1991.19,A,1991.42,D,1991.53,M,1991.67,S,1991.77,R,1993.11,O,1993.42,S,1994.1,M,1995.03,D,1995.12,G,1996.09,A,1998.08,L,1998.49,A,1999,
  A,1999.16,L,1999.47,A,2000.08,L,2000.7,A,2002.14,L,2002.55,A,2005.66,G,2005.77,A,2006.14,G,2006.35,A,2006.49,G,2006.62,A,2006.83,G,2007.34,A,2007.41,G,2007.96,A,2008.16,G,2008.3,A,2008.4,G,2008.68,A,2009,
  A,2009.12,G,2009.41,A,2009.57,G,2009.77,A,2009.93,G,2010,A,2010.9,G,2011.23,A,2011.33,G,2012.24,A,2014.47,G,2015.05,A,2015.42,D,2016.04,G,2016.97,A,2018.54,G,2019];
const latS65 = [A,1979.97,G,1980.39,A,1980.92,G,1981.11,A,1981.69,G,1981.93,A,1982.1,G,1982.77,D,1982.83,S,1983.64,Y,1983.85,S,1984.19,Y,1984.64,M,1985.46,D,1986.08,G,1989,
  G,1989.24,A,1990.64,G,1991.19,A,1991.49,D,1991.57,S,1991.74,R,1992.47,O,1992.84,R,1993.11,O,1993.38,S,1994.07,Y,1994.24,M,1995.03,D,1995.16,G,1996.09,A,1998.11,L,1998.49,A,1999,
  A,1999.16,L,1999.47,A,2000.12,L,2000.66,A,2002.21,L,2002.55,A,2005.56,G,2005.97,A,2006.1,G,2006.72,A,2006.81,G,2008.1,A,2008.51,G,2008.71,A,2009,
  A,2009.12,G,2009.53,A,2009.88,G,2010.01,A,2010.39,G,2010.63,A,2010.9,G,2011.33,D,2011.62,G,2012.27,A,2012.45,G,2012.62,A,2013.44,G,2013.64,A,2014.4,G,2015.01,A,2015.39,G,2015.6,D,2016.08,G,2016.97,A,2018.44,G,2018.68,A,2019];
const latS70 = [A,1979.97,G,1980.46,A,1980.94,G,1981.09,A,1981.73,G,1981.97,A,1982.09,G,1982.75,D,1982.82,S,1983.68,Y,1983.82,S,1984.16,Y,1984.35,S,1984.42,Y,1984.57,M,1985.42,D,1986.08,G,1989,
  G,1989.21,A,1989.68,G,1989.77,A,1990.85,G,1991.19,A,1991.5,D,1991.57,S,1991.79,R,1992.32,O,1992.87,R,1993.11,O,1993.36,S,1994.07,Y,1994.25,M,1995.03,D,1995.2,G,1996.1,A,1998.14,L,1998.42,A,1999,
  A,1999.16,L,1999.5,A,2000.15,L,2000.66,A,2002.21,L,2002.55,A,2005.53,G,2005.73,A,2006.1,G,2006.72,A,2006.86,G,2008.1,A,2008.37,G,2008.71,A,2009,
  A,2009.12,G,2009.6,A,2009.84,G,2010.01,A,2010.39,G,2010.63,A,2010.94,G,2011.38,D,2011.45,M,2011.55,D,2011.66,G,2012.27,A,2012.36,G,2012.68,A,2013.37,G,2013.64,A,2014.36,G,2014.71,A,2014.84,G,2015.08,A,2015.39,G,2015.73,D,2016.08,G,2017.1,A,2018.4,G,2018.64,A,2019];
const latS75 = [A,1979.23,L,1979.36,A,1979.97,G,1980.63,A,1981.69,G,1981.97,A,1982.1,G,1982.65,D,1982.77,M,1982.86,S,1984.16,Y,1984.35,S,1984.43,Y,1984.55,M,1985.41,D,1986.08,G,1989,
  G,1989.21,A,1989.68,G,1989.77,A,1990.88,G,1991.19,A,1991.49,D,1991.57,S,1991.84,R,1992.29,O,1992.94,R,1993.11,O,1993.36,S,1994.07,Y,1994.25,M,1995.03,D,1995.2,G,1996.11,A,1998.14,L,1998.4,A,1999,
  A,1999.14,L,1999.47,A,2000.15,L,2000.63,A,2002.21,L,2002.54,A,2005.53,G,2005.7,A,2006.11,G,2006.49,D,2006.59,G,2006.72,A,2006.89,G,2007.48,D,2007.58,G,2007.82,A,2008.43,G,2008.71,A,2009,
  A,2009.12,G,2009.47,D,2009.57,G,2009.81,A,2010.01,G,2010.22,A,2010.39,G,2010.7,A,2010.97,G,2011.42,D,2011.45,M,2011.59,D,2011.66,G,2012.27,A,2012.34,G,2012.68,A,2013.37,G,2013.64,A,2014.36,G,2014.71,A,2014.88,G,2015.08,A,2015.39,G,2015.46,D,2015.56,G,2015.77,D,2016.08,G,2016.49,D,2016.58,G,2017.07,A,2017.38,G,2017.62,A,2018.37,G,2018.58,A,2019];

const rows = [[75, latN75], [70, latN70], [65, latN65], [60, latN60], [55, latN55], [50, latN50], [45, latN45], [40, latN40],
  [35, latN35], [30, latN30], [25, latN25], [20, latN20], [15, latN15], [10, latN10], [5, latN5], [0, lat0],
  [-5, latS5], [-10, latS10], [-15, latS15], [-20, latS20], [-25, latS25], [-30, latS30], [-35, latS35], [-40, latS40],
  [-45, latS45], [-50, latS50], [-55, latS55], [-60, latS60], [-65, latS65], [-70, latS70], [-75, latS75]];

Chart.defaults.font.family = '"Liberation Sans", Arial, sans-serif';
Chart.defaults.color = "#000";

// one bar dataset per colour class, each run of a row is a floating bar
function buildCells() {
    const cells = classColors.map(() => []);
    rows.forEach(([lat, runs]) => {
        let start = 1979;
        for (let i = 0; i < runs.length; i += 2) {
            const end = runs[i + 1];
            if (end > start) cells[runs[i]].push({ x: [start, end], y: lat });
            start = end;
        }
    });
    return cells;
}

const cells = buildCells();
const cellSets = classColors.map((color, k) => ({
    type: "bar",
    data: cells[k],
    backgroundColor: color,
    borderWidth: 0,
    inflateAmount: 1,
    barPercentage: 1,
    categoryPercentage: 1,
    grouped: false,
    order: 1
}));
const dottedSets = dottedYears.map(([topYear, bottomYear]) => ({
    type: "scatter",
    data: [{ x: topYear, y: latTop }, { x: bottomYear, y: latBottom }],
    showLine: true,
    pointRadius: 0,
    borderColor: "#000",
    borderWidth: 4,
    borderDash: [11, 9],
    order: 0
}));

// frame, outward tick marks and the volcano names
const plotMarks = {
    id: "plotMarks",
    afterDraw(chart) {
        const { ctx, chartArea: area, scales } = chart;
        ctx.save();
        ctx.strokeStyle = "#000";
        ctx.lineCap = "butt";
        ctx.lineWidth = 6;
        ctx.beginPath();
        yearMarks.forEach(yr => {
            const x = scales.x.getPixelForValue(yr);
            ctx.moveTo(x, area.top); ctx.lineTo(x, area.top - 96);
            ctx.moveTo(x, area.bottom); ctx.lineTo(x, area.bottom + 96);
        });
        latLabels.forEach(lat => {
            const y = scales.y.getPixelForValue(lat);
            ctx.moveTo(area.left, y); ctx.lineTo(area.left - 96, y);
            ctx.moveTo(area.right, y); ctx.lineTo(area.right + 96, y);
        });
        latMinor.forEach(lat => {
            const y = scales.y.getPixelForValue(lat);
            ctx.moveTo(area.left, y); ctx.lineTo(area.left - 50, y);
            ctx.moveTo(area.right, y); ctx.lineTo(area.right + 50, y);
        });
        ctx.stroke();
        ctx.lineWidth = 7;
        ctx.strokeRect(area.left, area.top, area.right - area.left, area.bottom - area.top);

        ctx.font = '84px "Liberation Sans", Arial, sans-serif';
        ctx.textAlign = "center";
        ctx.textBaseline = "middle";
        volcanoes.forEach(([name, yr, lat, color]) => {
            ctx.fillStyle = color;
            ctx.fillText(name, scales.x.getPixelForValue(yr), scales.y.getPixelForValue(lat));
        });
        ctx.restore();
    }
};

new Chart(document.getElementById("plotCanvas").getContext("2d"), {
    type: "bar",
    data: { datasets: dottedSets.concat(cellSets) },
    options: {
        indexAxis: "y",
        responsive: false,
        animation: false,
        devicePixelRatio: 1,
        layout: { padding: { left: 0, right: 133, top: 0, bottom: 0 } },
        plugins: {
            legend: { display: false },
            tooltip: { enabled: false },
            title: {
                display: true,
                fullSize: false,
                text: "Aerosol Optical Depth at  525 nm",
                font: { size: 126, weight: "normal" },
                padding: { top: 12, bottom: 166 }
            }
        },
        scales: {
            x: {
                type: "linear",
                min: 1979,
                max: 2018.92,
                offset: false,
                grid: { display: false, drawTicks: false },
                border: { display: false },
                afterBuildTicks: s => { s.ticks = yearLabels.map(v => ({ value: v })); },
                afterFit: s => { s.height = 375; s.paddingLeft = 0; s.paddingRight = 0; s.paddingTop = 0; s.paddingBottom = 0; },
                ticks: { autoSkip: false, maxRotation: 0, padding: 140, font: { size: 74 }, callback: v => String(v) }
            },
            y: {
                type: "linear",
                min: latBottom,
                max: latTop,
                offset: false,
                grid: { display: false, drawTicks: false, offset: false },
                border: { display: false },
                afterBuildTicks: s => { s.ticks = latLabels.map(v => ({ value: v })); },
                afterFit: s => { s.width = 362; s.paddingLeft = 0; s.paddingRight = 0; s.paddingTop = 0; s.paddingBottom = 0; },
                ticks: { autoSkip: false, padding: 150, font: { size: 74 }, callback: v => latLabelText[String(v)] }
            }
        }
    },
    plugins: [plotMarks]
});

// colour bar with its frame and the log10 AOD caption
const barFrame = {
    id: "barFrame",
    afterDraw(chart) {
        const { ctx, chartArea: area } = chart;
        ctx.save();
        ctx.strokeStyle = "#000";
        ctx.lineWidth = 8;
        ctx.strokeRect(area.left, area.top, area.right - area.left, area.bottom - area.top);

        ctx.fillStyle = "#000";
        ctx.textBaseline = "alphabetic";
        ctx.textAlign = "left";
        let x = 2046;
        const y = 96;
        ctx.font = '74px "Liberation Sans", Arial, sans-serif';
        ctx.fillText("log", x, y);
        x += ctx.measureText("log").width;
        ctx.font = '44px "Liberation Sans", Arial, sans-serif';
        ctx.fillText("10", x, y + 16);
        x += ctx.measureText("10").width;
        ctx.font = '74px "Liberation Sans", Arial, sans-serif';
        ctx.fillText(" AOD", x, y);
        ctx.restore();
    }
};

new Chart(document.getElementById("barCanvas").getContext("2d"), {
    type: "bar",
    data: {
        labels: ["AOD"],
        datasets: barClasses.map((cls, i) => ({
            data: [[barLevels[i], barLevels[i + 1]]],
            backgroundColor: classColors[cls],
            borderColor: "#000",
            borderWidth: 4,
            inflateAmount: 0,
            barPercentage: 1,
            categoryPercentage: 1,
            grouped: false
        }))
    },
    options: {
        indexAxis: "y",
        responsive: false,
        animation: false,
        devicePixelRatio: 1,
        layout: { padding: { left: 846, right: 622, top: 178, bottom: 0 } },
        plugins: { legend: { display: false }, tooltip: { enabled: false } },
        scales: {
            x: {
                type: "linear",
                min: -2.6,
                max: -0.9,
                grid: { display: false, drawTicks: false },
                border: { display: false },
                afterBuildTicks: s => { s.ticks = barTicks.map(v => ({ value: v })); },
                afterFit: s => { s.height = 134; s.paddingLeft = 0; s.paddingRight = 0; s.paddingTop = 0; s.paddingBottom = 0; },
                ticks: { autoSkip: false, maxRotation: 0, padding: 30, font: { size: 74 }, callback: v => String(v) }
            },
            y: { display: false }
        }
    },
    plugins: [barFrame]
});
</script>
</body>
</html>
